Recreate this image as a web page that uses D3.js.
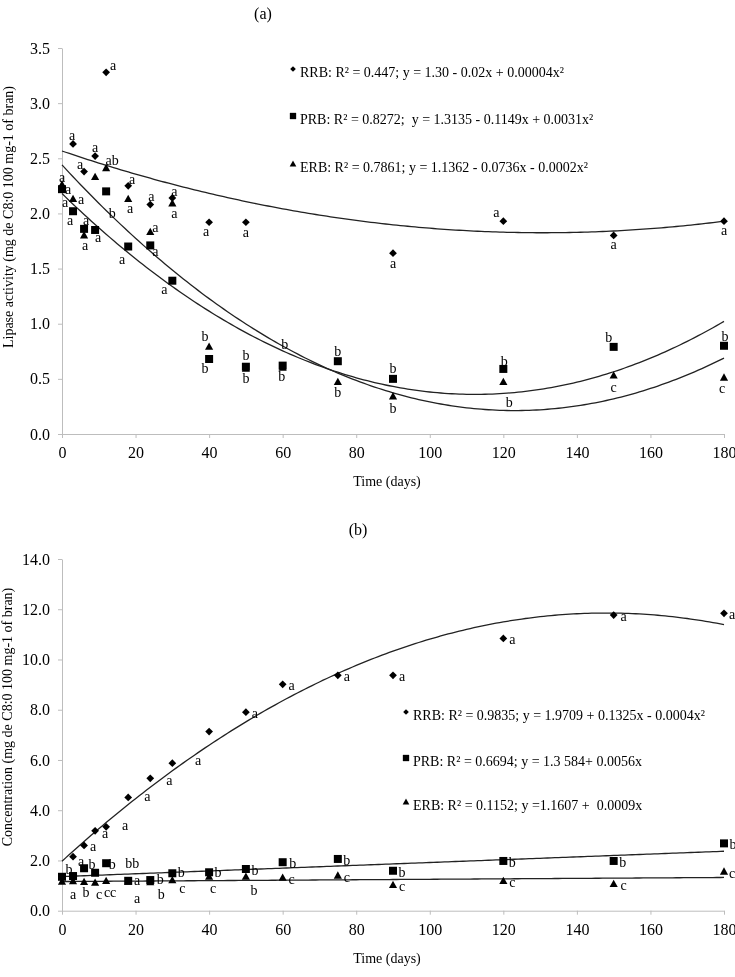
<!DOCTYPE html>
<html><head><meta charset="utf-8">
<script src="https://cdn.jsdelivr.net/npm/d3@7"></script>
<style>
body{margin:0;background:#fff}
svg{display:block;will-change:transform}
text{font-family:"Liberation Serif","Times New Roman",serif;fill:#000}
</style>
</head><body>
<svg id="chart" width="735" height="977"></svg>
<script>
// ---------------- DATA ----------------
const days = [0,3,6,9,12,18,24,30,40,50,60,75,90,120,150,180];
const xTickValues = [0,20,40,60,80,100,120,140,160,180];
const yTickValuesA = [0,0.5,1,1.5,2,2.5,3,3.5];
const yTickValuesB = [0,2,4,6,8,10,12,14];

// Panel (a): lipase activity
const rrbA = [2.24,2.63,2.38,2.52,3.28,2.25,2.08,2.14,1.92,1.92,null,null,1.64,1.93,1.80,1.93];
const prbA = [2.22,2.02,1.86,1.85,2.20,1.70,1.71,1.39,0.68,0.61,0.62,0.66,0.50,0.59,0.79,0.80];
const erbA = [2.26,2.13,1.80,2.33,2.41,2.13,1.83,2.09,0.79,0.59,0.60,0.47,0.34,0.47,0.53,0.51];
const rrbALetters = ['a','a','a','a','a','a','a','a','a','a',null,null,'a','a','a','a'];
const prbALetters = ['a','a','a','a','b','a','a','a','b','b','b','b','b','b','b','b'];
const erbALetters = ['a','a','a',null,'ab','a','a','a','b','b','b','b','b','b','c','c'];
// drawn trend curves, coefficients [c0, c1, c2] of c0 + c1*x + c2*x^2
const rrbAFit = [2.566,-0.01133,0.0000433];
const prbAFit = [2.18,-0.03243,0.0001444];
const erbAFit = [2.44,-0.03619,0.0001470];
const legendA = [
  'RRB: R² = 0.447; y = 1.30 - 0.02x + 0.00004x²',
  'PRB: R² = 0.8272;  y = 1.3135 - 0.1149x + 0.0031x²',
  'ERB: R² = 0.7861; y = 1.1362 - 0.0736x - 0.0002x²'
];

// Panel (b): concentration
const rrbB = [1.30,2.15,2.60,3.18,3.34,4.51,5.27,5.87,7.13,7.90,9.01,9.37,9.37,10.84,11.77,11.84];
const prbB = [1.35,1.38,1.69,1.51,1.89,1.19,1.22,1.49,1.53,1.66,1.93,2.06,1.59,1.98,1.98,2.68];
const erbB = [1.15,1.17,1.14,1.11,1.18,1.15,1.13,1.21,1.35,1.35,1.31,1.39,1.02,1.18,1.06,1.55];
const rrbBLetters = [null,'a','a',null,'a','a','a','a','a','a','a','a','a','a','a','a'];
const prbBLetters = ['b',null,'b',null,'b','a','b','b','b','b','b','b','b','b','b','b'];
const erbBLetters = [null,'a','b','c','cc','a','b','c','c','b','c','c','c','c','c','c'];
const rrbBFit = [1.97,0.1335,-0.000451];
const prbBFit = [1.3584,0.0056,0];
const erbBFit = [1.1607,0.0009,0];
const legendB = [
  'RRB: R² = 0.9835; y = 1.9709 + 0.1325x - 0.0004x²',
  'PRB: R² = 0.6694; y = 1.3 584+ 0.0056x',
  'ERB: R² = 0.1152; y =1.1607 +  0.0009x'
];

// ---------------- LAYOUT (letter offsets, px from marker) ----------------
const offRRB_A = [[0,-9],[-1,-8],[-4,-7],[0,-8],[7,-6],[4,-6],[1,-8],[2,-6],[-3,10],[0,11],null,null,[0,11],[-7,-8],[0,10],[0,10]];
const offPRB_A = [[6,1],[-3,10],[2,-8],[3,8],[6,23],[-6,13],[5,7],[-8,9],[-4,10],[0,12],[-1,11],[0,-9],[0,-10],[1,-7],[-5,-9],[1,-9]];
const offERB_A = [[3,18],[8,1],[1,11],null,[6,-7],[2,10],[5,-4],[2,10],[-4,-10],[0,-13],[2,-23],[0,11],[0,12],[6,21],[0,12],[-2,11]];
const offRRB_B = [null,[8,5],[9,2],null,[-1,7],[-3,29],[-3,19],[-3,18],[-11,29],[9,2],[9,2],[9,2],[9,2],[9,2],[10,2],[8,2]];
const offPRB_B = [[7,-7],null,[8,-3],null,[6,2],[9,0],[10,0],[9,0],[9,1],[9,2],[10,2],[9,2],[9,2],[9,2],[9,2],[9,2]];
const offERB_B = [null,[0,14],[2,11],[4,12],[4,12],[9,17],[11,13],[10,9],[4,12],[8,14],[9,2],[9,2],[9,2],[9,2],[10,2],[8,2]];

// ---------------- DRAWING ----------------
const svg = d3.select('#chart');
const AXIS_COLOR = '#bdbdbd';
const LINE_COLOR = '#222';

const diamondType = {draw(ctx, size){ const r = Math.sqrt(size/2); ctx.moveTo(0,-r); ctx.lineTo(r,0); ctx.lineTo(0,r); ctx.lineTo(-r,0); ctx.closePath(); }};
const triangleType = {draw(ctx, size){ const w = Math.sqrt(size*2/0.9); const h = w*0.9; ctx.moveTo(0,-h*0.6); ctx.lineTo(w/2,h*0.4); ctx.lineTo(-w/2,h*0.4); ctx.closePath(); }};
const markerDefs = {
  RRB: d3.symbol().type(diamondType).size(30),
  PRB: d3.symbol().type(d3.symbolSquare).size(64),
  ERB: d3.symbol().type(triangleType).size(30)
};
const legendMarkers = {
  RRB: d3.symbol().type(diamondType).size(16),
  PRB: d3.symbol().type(d3.symbolSquare).size(40),
  ERB: d3.symbol().type(triangleType).size(20)
};

function drawPanel(cfg){
  const x = d3.scaleLinear().domain([0,180]).range([62,724]);
  const y = d3.scaleLinear().domain(cfg.yDomain).range(cfg.yRange);
  const g = svg.append('g');

  // axes
  const ax = g.append('g').attr('transform',`translate(0,${cfg.yRange[0]})`)
    .call(d3.axisBottom(x).tickValues(xTickValues).tickFormat(d3.format('d')).tickSize(4).tickSizeOuter(0).tickPadding(9));
  const ay = g.append('g').attr('transform','translate(62,0)')
    .call(d3.axisLeft(y).tickValues(cfg.yTicks).tickFormat(d3.format('.1f')).tickSize(4).tickSizeOuter(0).tickPadding(8));
  [ax,ay].forEach(a=>{
    a.select('.domain').attr('stroke',AXIS_COLOR);
    a.selectAll('.tick line').attr('stroke',AXIS_COLOR);
    a.selectAll('.tick text').attr('fill','#000').style('font-size','16px').style('font-family','"Liberation Serif",serif');
  });

  // axis titles
  g.append('text').attr('x',387).attr('y',cfg.yRange[0]+52).attr('text-anchor','middle')
    .style('font-size','14px').text('Time (days)');
  g.append('text').attr('transform',`translate(${cfg.yTitleX},${cfg.yTitleY}) rotate(-90)`)
    .attr('text-anchor','middle').style('font-size','14px').text(cfg.yTitle);
  // panel title
  g.append('text').attr('x',cfg.titleX).attr('y',cfg.titleY).attr('text-anchor','middle')
    .style('font-size','16px').text(cfg.title);

  // trend curves
  const xs = d3.range(0,180.5,1);
  const line = d3.line().x(d=>x(d[0])).y(d=>y(d[1])).curve(d3.curveLinear);
  cfg.series.forEach(s=>{
    const pts = xs.map(v=>[v, s.fit[0]+s.fit[1]*v+s.fit[2]*v*v]);
    g.append('path').datum(pts).attr('d',line).attr('fill','none')
      .attr('stroke',LINE_COLOR).attr('stroke-width',1.3);
  });

  // markers
  cfg.series.forEach(s=>{
    const pts = days.map((d,i)=>({d, v:s.values[i]})).filter(p=>p.v!=null);
    g.selectAll(null).data(pts).enter().append('path')
      .attr('d',markerDefs[s.key]())
      .attr('transform',p=>`translate(${x(p.d)},${y(p.v)})`)
      .attr('fill','#000');
  });

  // letters
  cfg.series.forEach(s=>{
    const lbl = days.map((d,i)=>({d, v:s.values[i], t:s.letters[i], o:s.offsets[i]}))
      .filter(p=>p.v!=null && p.t && p.o);
    g.selectAll(null).data(lbl).enter().append('text')
      .attr('x',p=>x(p.d)+p.o[0]).attr('y',p=>y(p.v)+p.o[1]+4)
      .attr('text-anchor','middle').style('font-size','14px').text(p=>p.t);
  });
  (cfg.extra||[]).forEach(e=>{
    const s = cfg.series.find(q=>q.key===e.key);
    const i = days.indexOf(e.day);
    g.append('text').attr('x',x(e.day)+e.o[0]).attr('y',y(s.values[i])+e.o[1]+4)
      .attr('text-anchor','middle').style('font-size','14px').text(e.t);
  });

  // legend
  cfg.legend.forEach((txt,i)=>{
    const key = ['RRB','PRB','ERB'][i];
    const ly = cfg.legendY[i];
    g.append('path').attr('d',legendMarkers[key]()).attr('transform',`translate(${cfg.legendX-7},${ly-8})`).attr('fill','#000');
    g.append('text').attr('x',cfg.legendX).attr('y',ly).style('font-size','14px')
      .style('white-space','pre').attr('xml:space','preserve').text(txt);
  });
}

drawPanel({
  yDomain:[0,3.5], yRange:[434,48], yTicks:yTickValuesA,
  title:'(a)', titleX:263, titleY:19,
  yTitle:'Lipase activity (mg de C8:0 100 mg-1 of bran)', yTitleX:13, yTitleY:217,
  legend:legendA, legendX:300, legendY:[77,124,172],
  series:[
    {key:'RRB', values:rrbA, letters:rrbALetters, offsets:offRRB_A, fit:rrbAFit},
    {key:'PRB', values:prbA, letters:prbALetters, offsets:offPRB_A, fit:prbAFit},
    {key:'ERB', values:erbA, letters:erbALetters, offsets:offERB_A, fit:erbAFit}
  ]
});

drawPanel({
  yDomain:[0,14], yRange:[910.7,559], yTicks:yTickValuesB,
  title:'(b)', titleX:358, titleY:535,
  yTitle:'Concentration (mg de C8:0 100 mg-1 of bran)', yTitleX:12, yTitleY:717,
  legend:legendB, legendX:413, legendY:[720,766,810],
  series:[
    {key:'RRB', values:rrbB, letters:rrbBLetters, offsets:offRRB_B, fit:rrbBFit},
    {key:'PRB', values:prbB, letters:prbBLetters, offsets:offPRB_B, fit:prbBFit},
    {key:'ERB', values:erbB, letters:erbBLetters, offsets:offERB_B, fit:erbBFit}
  ],
  extra:[{key:'PRB', day:18, t:'bb', o:[4,-17]}]
});
</script>
</body></html>
